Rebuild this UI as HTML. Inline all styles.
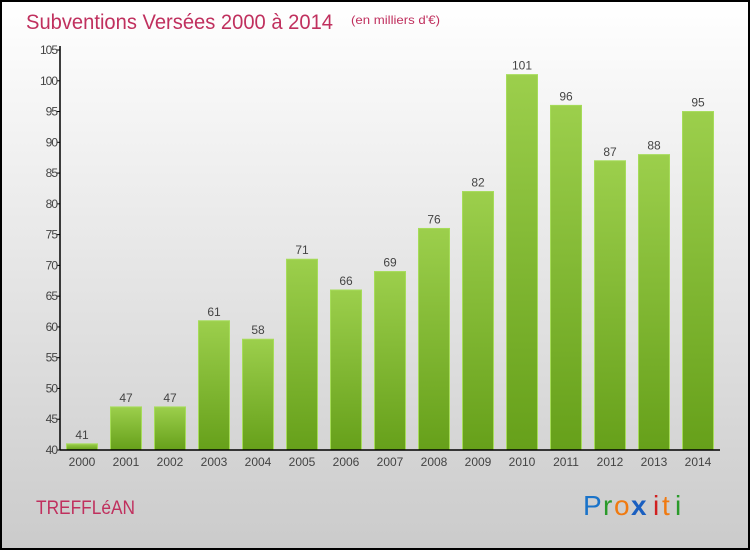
<!DOCTYPE html>
<html><head><meta charset="utf-8"><style>
html,body{margin:0;padding:0}
body{width:750px;height:550px;overflow:hidden;font-family:"Liberation Sans",sans-serif}
</style></head><body>
<svg id="chart" width="750" height="550" xmlns="http://www.w3.org/2000/svg">
<defs>
<linearGradient id="bg" x1="0" y1="0" x2="0" y2="1"><stop offset="0" stop-color="#ffffff"/><stop offset="1" stop-color="#cbcbcb"/></linearGradient>
<linearGradient id="bar" x1="0" y1="0" x2="0" y2="1"><stop offset="0" stop-color="#9ccf4c"/><stop offset="1" stop-color="#66a01a"/></linearGradient>
</defs>
<rect x="1" y="1" width="748" height="548" fill="url(#bg)" stroke="#000" stroke-width="2"/>
<text x="26" y="29" font-size="21" fill="#c0305e" textLength="307" lengthAdjust="spacingAndGlyphs">Subventions Versées 2000 à 2014</text>
<text x="351" y="24" font-size="12" fill="#c0305e" textLength="89" lengthAdjust="spacingAndGlyphs">(en milliers d'€)</text>
<text x="36" y="514" font-size="19" fill="#c0305e" textLength="99" lengthAdjust="spacingAndGlyphs">TREFFLéAN</text>
<g font-size="28">
<text x="583" y="515" fill="#1a73c9">P</text><text x="603" y="515" fill="#2a9a2a">r</text><text x="614" y="515" fill="#f07a10">o</text><text x="631" y="515" fill="#1a5fc0" font-weight="bold">x</text><text x="653" y="515" fill="#d02020">i</text><text x="662" y="515" fill="#f07a10">t</text><text x="675" y="515" fill="#2a9a2a">i</text>
</g>
<g id="plot"></g>
</svg>
<script>
const categories=["2000","2001","2002","2003","2004","2005","2006","2007","2008","2009","2010","2011","2012","2013","2014"];
const values=[41,47,47,61,58,71,66,69,76,82,101,96,87,88,95];
const yTicks=[40,45,50,55,60,65,70,75,80,85,90,95,100,105];
const X0=60,X1=720,Y0=450,Y1=50,VMIN=40,VMAX=105;
const ns="http://www.w3.org/2000/svg";
const g=document.getElementById('plot');
const bw=(X1-X0)/categories.length;
function xc(i){return X0+bw*(i+0.5);}
function y(v){return Y0-(v-VMIN)/(VMAX-VMIN)*(Y0-Y1);}
function mk(t,a){const e=document.createElementNS(ns,t);for(const k in a)e.setAttribute(k,a[k]);g.appendChild(e);return e;}
values.forEach((v,i)=>{
 const r=mk('rect',{x:xc(i)-15.5,y:y(v),width:31,height:Y0-y(v),fill:'url(#bar)',stroke:'#a6dc5a','stroke-width':1});
 
 
 const t=mk('text',{x:xc(i),y:y(v)-5,'text-anchor':'middle','font-size':12,fill:'#444'});
 t.textContent=v;
 
 
 const c=mk('text',{x:xc(i),y:Y0+16,'text-anchor':'middle','font-size':12,fill:'#444'});
 c.textContent=categories[i];
 
 
});
yTicks.forEach(v=>{
 const l=mk('line',{x1:X0-3,x2:X0,y1:y(v),y2:y(v),stroke:'#000'});
 
 
 const t=mk('text',{x:X0-3,y:y(v)+4,'text-anchor':'end','font-size':12,fill:'#444','letter-spacing':'-1'});
 t.textContent=v;
 
 
});
const ya=mk('line',{x1:X0,x2:X0,y1:Y1-4,y2:Y0,stroke:'#000','stroke-width':1.5});


const xa=mk('line',{x1:X0,x2:X1,y1:Y0,y2:Y0,stroke:'#000','stroke-width':1.5});


</script>
</body></html>
